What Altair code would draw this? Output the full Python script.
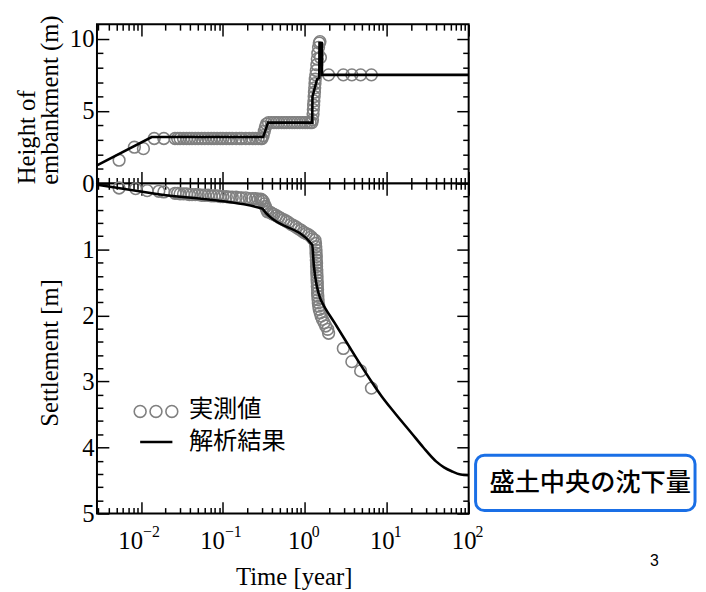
import math
import altair as alt
import pandas as pd

# ---------------- data ----------------
# measured embankment height (m)
H_TIME = [0.0054, 0.0083, 0.0107,
          0.0145, 0.019, 0.026, 0.028, 0.030, 0.033, 0.036, 0.039, 0.042, 0.046, 0.050,
          0.055, 0.060, 0.066, 0.072, 0.078, 0.085, 0.093, 0.10, 0.11, 0.12, 0.13, 0.145,
          0.16, 0.17, 0.19, 0.21, 0.23, 0.25, 0.27, 0.29, 0.30,
          0.31, 0.32, 0.33, 0.34,
          0.36, 0.39, 0.42, 0.45, 0.48, 0.52, 0.56, 0.60, 0.65, 0.70, 0.75, 0.81, 0.87,
          0.94, 1.01, 1.08, 1.16, 1.22,
          1.24, 1.26, 1.27, 1.28, 1.29, 1.30, 1.31, 1.32, 1.33, 1.34, 1.36, 1.38, 1.40,
          1.42, 1.44, 1.47, 1.50, 1.53, 1.55,
          1.95, 2.95, 3.75, 4.8, 6.5]
H_VAL = [1.6, 2.5, 2.4,
         3.1, 3.1, 3.1, 3.1, 3.1, 3.1, 3.1, 3.1, 3.1, 3.1, 3.1,
         3.1, 3.1, 3.1, 3.1, 3.1, 3.1, 3.1, 3.1, 3.1, 3.1, 3.1, 3.1,
         3.1, 3.1, 3.1, 3.1, 3.1, 3.1, 3.1, 3.1, 3.1,
         3.3, 3.6, 3.9, 4.1,
         4.2, 4.2, 4.2, 4.2, 4.2, 4.2, 4.2, 4.2, 4.2, 4.2, 4.2, 4.2, 4.2,
         4.2, 4.2, 4.2, 4.2, 4.2,
         4.4, 4.8, 5.1, 5.4, 5.7, 6.0, 6.3, 6.6, 6.9, 7.2, 7.5, 7.8, 8.2,
         8.6, 9.0, 9.4, 9.7, 9.8, 8.7,
         7.5, 7.5, 7.5, 7.5, 7.5]

# analysed embankment height (m)
HL_TIME = [0.0029, 0.0135, 0.31, 0.355, 1.23, 1.24, 1.41, 1.50, 1.51, 1.61, 1.62, 100]
HL_VAL = [1.25, 3.2, 3.2, 4.2, 4.2, 6.0, 7.2, 7.3, 9.7, 9.7, 7.5, 7.5]

# measured settlement (m)
S_TIME = [0.0054, 0.0086, 0.0119, 0.0165, 0.019,
          0.026, 0.028, 0.030, 0.033, 0.036, 0.039, 0.042, 0.046, 0.050, 0.055, 0.060,
          0.066, 0.072, 0.078, 0.085, 0.093, 0.10, 0.11, 0.12, 0.13, 0.145, 0.16, 0.17,
          0.19, 0.21, 0.23, 0.25, 0.27, 0.29, 0.30,
          0.31, 0.32, 0.33, 0.34, 0.35,
          0.38, 0.40, 0.42, 0.45, 0.48, 0.51, 0.55, 0.59, 0.63, 0.68, 0.73, 0.78, 0.84,
          0.90, 0.97, 1.04, 1.12, 1.20, 1.25,
          1.33, 1.35, 1.36, 1.37, 1.37, 1.38, 1.38, 1.39, 1.39, 1.40, 1.40, 1.41, 1.41,
          1.42, 1.42, 1.43, 1.43, 1.44, 1.45, 1.46, 1.48, 1.50, 1.54, 1.58, 1.64, 1.72,
          1.80, 1.90,
          1.95, 2.95, 3.75, 4.8, 6.5]
S_VAL = [0.07, 0.08, 0.11, 0.12, 0.13,
         0.15, 0.15, 0.16, 0.16, 0.16, 0.17, 0.17, 0.17, 0.17, 0.18, 0.18,
         0.18, 0.19, 0.19, 0.19, 0.20, 0.20, 0.20, 0.21, 0.21, 0.21, 0.22, 0.22,
         0.22, 0.23, 0.23, 0.23, 0.24, 0.24, 0.25,
         0.27, 0.31, 0.35, 0.39, 0.43,
         0.44, 0.46, 0.47, 0.49, 0.51, 0.53, 0.55, 0.57, 0.59, 0.62, 0.64, 0.66, 0.69,
         0.71, 0.74, 0.76, 0.78, 0.81, 0.84,
         0.86, 0.91, 0.96, 1.01, 1.06, 1.11, 1.16, 1.21, 1.26, 1.31, 1.36, 1.41, 1.46,
         1.51, 1.56, 1.61, 1.66, 1.71, 1.76, 1.81, 1.86, 1.91, 1.96, 2.01, 2.06, 2.11,
         2.16, 2.21,
         2.27, 2.50, 2.70, 2.84, 3.10]

# analysed settlement (m)
SL_TIME = [0.0029, 0.0156, 0.30, 0.33, 0.37, 1.23, 1.29, 1.55, 1.62, 2.3, 3.4, 4.7,
           6.5, 8.6, 12.4, 20, 28, 40, 50, 62, 80, 100]
SL_VAL = [0.02, 0.16, 0.38, 0.44, 0.50, 0.93, 1.25, 1.75, 1.80, 2.11, 2.45, 2.73,
          3.00, 3.22, 3.47, 3.78, 4.00, 4.21, 4.30, 4.36, 4.41, 4.42]

# axes / text
X_DOMAIN = [0.0029, 100]
X_MAJOR = [0.01, 0.1, 1, 10, 100]
X_MAJOR_BASE = "10"
X_MAJOR_EXP = ["−2", "−1", "0", "1", "2"]
X_MINOR = [0.003, 0.004, 0.005, 0.006, 0.007, 0.008, 0.009,
           0.02, 0.03, 0.04, 0.05, 0.06, 0.07, 0.08, 0.09,
           0.2, 0.3, 0.4, 0.5, 0.6, 0.7, 0.8, 0.9,
           2, 3, 4, 5, 6, 7, 8, 9,
           20, 30, 40, 50, 60, 70, 80, 90]
H_DOMAIN = [0, 11]
H_MAJOR = [0, 5, 10]
H_MINOR = [1, 2, 3, 4, 6, 7, 8, 9]
S_DOMAIN = [0, 5]
S_MAJOR = [0, 1, 2, 3, 4, 5]
S_MINOR = [0.2, 0.4, 0.6, 0.8, 1.2, 1.4, 1.6, 1.8, 2.2, 2.4, 2.6, 2.8,
           3.2, 3.4, 3.6, 3.8, 4.2, 4.4, 4.6, 4.8]

X_TITLE = "Time [year]"
H_TITLE_LINES = ["Height of", "embankment (m)"]
S_TITLE = "Settlement [m]"
LEGEND_LABELS = ["実測値", "解析結果"]
BOX_LABEL = "盛土中央の沈下量"
PAGE_NUMBER = "3"

# ---------------- styling ----------------
SERIF = "Liberation Serif"
CJK = "Noto Sans CJK JP"
FS = 25
W = 376
H_TOP = 161
H_BOT = 334
MAJ = 12
MIN = 6
GREY = "#808080"
BLUE = "#1a6fe6"
THREE_CIRCLES = ("M -1.67,0 A 1,1 0 1,1 -3.67,0 A 1,1 0 1,1 -1.67,0 "
                 "M 1,0 A 1,1 0 1,1 -1,0 A 1,1 0 1,1 1,0 "
                 "M 3.67,0 A 1,1 0 1,1 1.67,0 A 1,1 0 1,1 3.67,0")


def exp_label_expr():
    expr = "''"
    for v, lab in reversed(list(zip(X_MAJOR, X_MAJOR_EXP))):
        expr = f"abs(log(datum.value)/LN10 - ({math.log10(v)})) < 0.01 ? '{lab}' : {expr}"
    return expr


def axis(orient, values, size, labels=False, title=None, **kw):
    return alt.Axis(orient=orient, values=values, tickSize=size, offset=-size,
                    ticks=True, tickColor="black", tickWidth=1.5,
                    domain=False, grid=False, labels=labels,
                    labelFont=SERIF, labelFontSize=FS, labelColor="black",
                    labelFlush=False, title=title,
                    titleFont=SERIF, titleFontSize=FS, titleFontWeight="normal",
                    titleColor="black", **kw)


xs = alt.Scale(type="log", domain=X_DOMAIN, nice=False)
hs = alt.Scale(domain=H_DOMAIN, nice=False, zero=False)
ss = alt.Scale(domain=S_DOMAIN, nice=False, zero=False, reverse=True)

df_h = pd.DataFrame({"t": H_TIME, "v": H_VAL})
df_hl = pd.DataFrame({"t": HL_TIME, "v": HL_VAL, "i": range(len(HL_TIME))})
df_s = pd.DataFrame({"t": S_TIME, "v": S_VAL})
df_sl = pd.DataFrame({"t": SL_TIME, "v": SL_VAL, "i": range(len(SL_TIME))})

point_style = dict(shape="circle", filled=False, size=140, color=GREY, strokeWidth=1.6, opacity=1)


def panel(df_pts, df_line, yscale, ymaj, ymin, ytitle, ytitle_y, ytitle_align, bottom_labels,
          interp="linear", extra=()):
    left_title = dict(titleAngle=-90, titleAlign=ytitle_align, titleBaseline="alphabetic",
                      titleX=-52, titleY=ytitle_y)
    if bottom_labels:
        xmaj_axis = axis("bottom", X_MAJOR, MAJ, labels=True, title=X_TITLE,
                         labelExpr=f"'{X_MAJOR_BASE}'", labelPadding=15,
                         labelOffset={"condition": {"test": "datum.value < 0.5", "value": -11},
                                      "value": -5},
                         titleX=W / 2 + 11, titleY=84, titleBaseline="alphabetic",
                         titleAlign="center")
    else:
        xmaj_axis = axis("bottom", X_MAJOR, MAJ)
    pts = alt.Chart(df_pts).mark_point(**point_style).encode(
        x=alt.X("t:Q", scale=xs, axis=xmaj_axis),
        y=alt.Y("v:Q", scale=yscale,
                axis=axis("left", ymaj, MAJ, labels=True, title=ytitle,
                          labelPadding=3,
                          labelExpr="datum.value == 0 && " + ("false" if bottom_labels else "true")
                          + " ? '' : datum.label",
                          **left_title)),
    )
    line = alt.Chart(df_line).mark_line(color="black", strokeWidth=2.6, interpolate=interp).encode(
        x=alt.X("t:Q", scale=xs, axis=axis("bottom", X_MINOR, MIN)),
        y=alt.Y("v:Q", scale=yscale, axis=axis("left", ymin, MIN)),
        order=alt.Order("i:Q"),
    )
    ax1 = alt.Chart(df_line).mark_line(opacity=0).encode(
        x=alt.X("t:Q", scale=xs, axis=axis("top", X_MAJOR, MAJ)),
        y=alt.Y("v:Q", scale=yscale, axis=axis("right", ymaj, MAJ)),
        order=alt.Order("i:Q"),
    )
    ax2 = alt.Chart(df_line).mark_line(opacity=0).encode(
        x=alt.X("t:Q", scale=xs, axis=axis("top", X_MINOR, MIN)),
        y=alt.Y("v:Q", scale=yscale, axis=axis("right", ymin, MIN)),
        order=alt.Order("i:Q"),
    )
    layers = [pts, line, ax1, ax2]
    if bottom_labels:
        # superscript exponents of the 10^n tick labels
        ax3 = alt.Chart(df_line).mark_line(opacity=0).encode(
            x=alt.X("t:Q", scale=xs,
                    axis=alt.Axis(orient="bottom", values=X_MAJOR, ticks=False, tickSize=0,
                                  domain=False, grid=False, labels=True,
                                  labelExpr=exp_label_expr(), labelFont=SERIF,
                                  labelFontSize=16, labelColor="black", labelFlush=False,
                                  labelAlign="left", labelPadding=10,
                                  labelOffset={"condition": {"test": "datum.value < 0.5",
                                                             "value": 1.5},
                                               "value": 6.5},
                                  title=None)),
            y=alt.Y("v:Q", scale=yscale, axis=None),
            order=alt.Order("i:Q"),
        )
        layers.append(ax3)
    return alt.layer(*layers, *extra).resolve_axis(x="independent", y="independent")


# first line of the upper y title (second line is the axis title itself);
# both lines start at the same height, as in the reference
title_line1 = alt.Chart(pd.DataFrame({"label": [H_TITLE_LINES[0]]})).mark_text(
    angle=270, align="left", baseline="alphabetic", font=SERIF, fontSize=FS, color="black"
).encode(x=alt.value(-63), y=alt.value(162), text="label:N")

# annotations (legend, label box, page number) in pixel space of the lower panel
leg_pts = alt.Chart(pd.DataFrame({"label": [LEGEND_LABELS[0]]})).mark_point(
    shape=THREE_CIRCLES, filled=False, size=144, color=GREY, strokeWidth=1.6, opacity=1
).encode(x=alt.value(59.7), y=alt.value(230.7))
leg_line = alt.Chart(pd.DataFrame({"label": [LEGEND_LABELS[1]]})).mark_rule(
    color="black", strokeWidth=2.6
).encode(x=alt.value(43.7), x2=alt.value(76.3), y=alt.value(261.7))
leg_txt1 = alt.Chart(pd.DataFrame({"label": [LEGEND_LABELS[0]]})).mark_text(
    align="left", baseline="middle", font=CJK, fontSize=24.5, color="black"
).encode(x=alt.value(93), y=alt.value(229.7), text="label:N")
leg_txt2 = alt.Chart(pd.DataFrame({"label": [LEGEND_LABELS[1]]})).mark_text(
    align="left", baseline="middle", font=CJK, fontSize=24.5, color="black"
).encode(x=alt.value(93), y=alt.value(262.2), text="label:N")
box = alt.Chart(pd.DataFrame({"label": [BOX_LABEL]})).mark_rect(
    fill="white", stroke=BLUE, strokeWidth=3, cornerRadius=9
).encode(x=alt.value(383), x2=alt.value(605), y=alt.value(275), y2=alt.value(331))
box_txt = alt.Chart(pd.DataFrame({"label": [BOX_LABEL]})).mark_text(
    align="center", baseline="middle", font=CJK, fontSize=25.5, fontWeight=500, color="black"
).encode(x=alt.value(499), y=alt.value(303), text="label:N")
page_txt = alt.Chart(pd.DataFrame({"label": [PAGE_NUMBER]})).mark_text(
    align="center", baseline="middle", font="Liberation Sans", fontSize=16, color="black"
).encode(x=alt.value(564), y=alt.value(382), text="label:N")

top = panel(df_h, df_hl, hs, H_MAJOR, H_MINOR, H_TITLE_LINES[1], 162, "left", False,
            extra=(title_line1,)).properties(width=W, height=H_TOP)
bottom = panel(df_s, df_sl, ss, S_MAJOR, S_MINOR, S_TITLE, 171, "center", True,
               interp="monotone",
               extra=(leg_pts, leg_line, leg_txt1, leg_txt2, box, box_txt, page_txt)).properties(
    width=W, height=H_BOT)

chart = alt.vconcat(top, bottom, spacing=0, bounds="flush").properties(
    padding={"left": 6, "top": 2, "right": 0, "bottom": 0}
).configure_view(stroke="black", strokeWidth=2)

chart.save("out.html", embed_options={"renderer": "svg", "actions": False})
